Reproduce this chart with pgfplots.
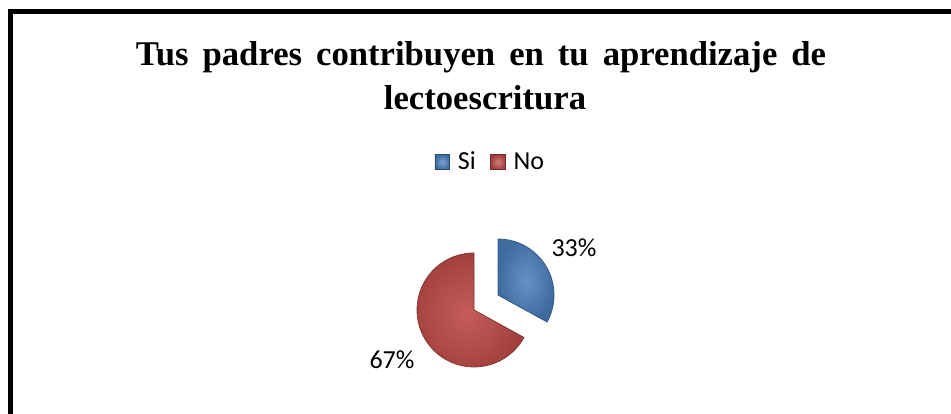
\documentclass[border=0pt]{standalone}
\usepackage{pgfplots}
\pgfplotsset{compat=1.18}
\usepackage{pgfplotstable}
\usepackage{fontspec}
\setmainfont{Liberation Serif}
\newfontfamily\carlito{Carlito}

\definecolor{siblue}{HTML}{4A7EBB}
\definecolor{nored}{HTML}{BE4B48}

% respuestas en porcentaje
\pgfplotstableread{
resp valor
Si   33
No   67
}\datos
\pgfplotstablegetelem{0}{valor}\of\datos \let\vSi\pgfplotsretval
\pgfplotstablegetelem{1}{valor}\of\datos \let\vNo\pgfplotsretval
\pgfmathsetmacro\aSi{90-3.6*\vSi}
\pgfmathsetmacro\aNo{\aSi-3.6*\vNo}

\begin{document}
\begin{tikzpicture}[x=0.75pt,y=0.75pt]
\useasboundingbox (0,0) rectangle (951,414);
\begin{axis}[
  at={(0,0)}, anchor=south west,
  width=713.25pt, height=310.5pt, scale only axis,
  xmin=0, xmax=951, ymin=0, ymax=414,
  hide axis, clip=false,
  legend columns=2,
  legend style={at={(0.516,0.6087)}, anchor=center, draw=none, fill=none,
    font=\carlito\fontsize{19.5}{21}\selectfont,
    /tikz/every odd column/.append style={column sep=4pt},
    /tikz/every even column/.append style={column sep=9pt}},
]
\addlegendimage{legend image code/.code={\shade[inner color=siblue!70!white, outer color=siblue!85!black, draw=siblue!60!black, line width=0.3pt] (0pt,-5.5pt) rectangle (11pt,5.5pt);}}
\addlegendentry{Si}
\addlegendimage{legend image code/.code={\shade[inner color=nored!70!white, outer color=nored!85!black, draw=nored!60!black, line width=0.3pt] (0pt,-5.5pt) rectangle (11pt,5.5pt);}}
\addlegendentry{No}

% porcion No
\shade[inner color=nored!90!white, outer color=nored!85!black, draw=nored!70!black, line width=0.6pt, line join=round]
  (axis cs:474,104) -- ++(\aSi:42.75pt) arc[start angle=\aSi, end angle=\aNo, radius=42.75pt] -- cycle;
% porcion Si (separada)
\shade[inner color=siblue!85!white, outer color=siblue!85!black, draw=siblue!70!black, line width=0.6pt, line join=round]
  (axis cs:498,119) -- ++(90:42pt) arc[start angle=90, end angle=\aSi, radius=42pt] -- cycle;

\node[font=\carlito\fontsize{19.5}{21}\selectfont] at (axis cs:574,166) {\vSi\%};
\node[font=\carlito\fontsize{19.5}{21}\selectfont] at (axis cs:392,54) {\vNo\%};

\node[anchor=base, font=\bfseries\fontsize{26}{30}\selectfont] at (axis cs:481,348)
  {\spaceskip=10.5pt plus 1pt\relax Tus padres contribuyen en tu aprendizaje de};
\node[anchor=base, font=\bfseries\fontsize{26}{30}\selectfont] at (axis cs:485,304)
  {lectoescritura};
\end{axis}
\draw[black, line width=3.75pt, line cap=butt, line join=miter]
  (10.5,0) -- (10.5,402.5) -- (951,402.5);
\end{tikzpicture}
\end{document}
